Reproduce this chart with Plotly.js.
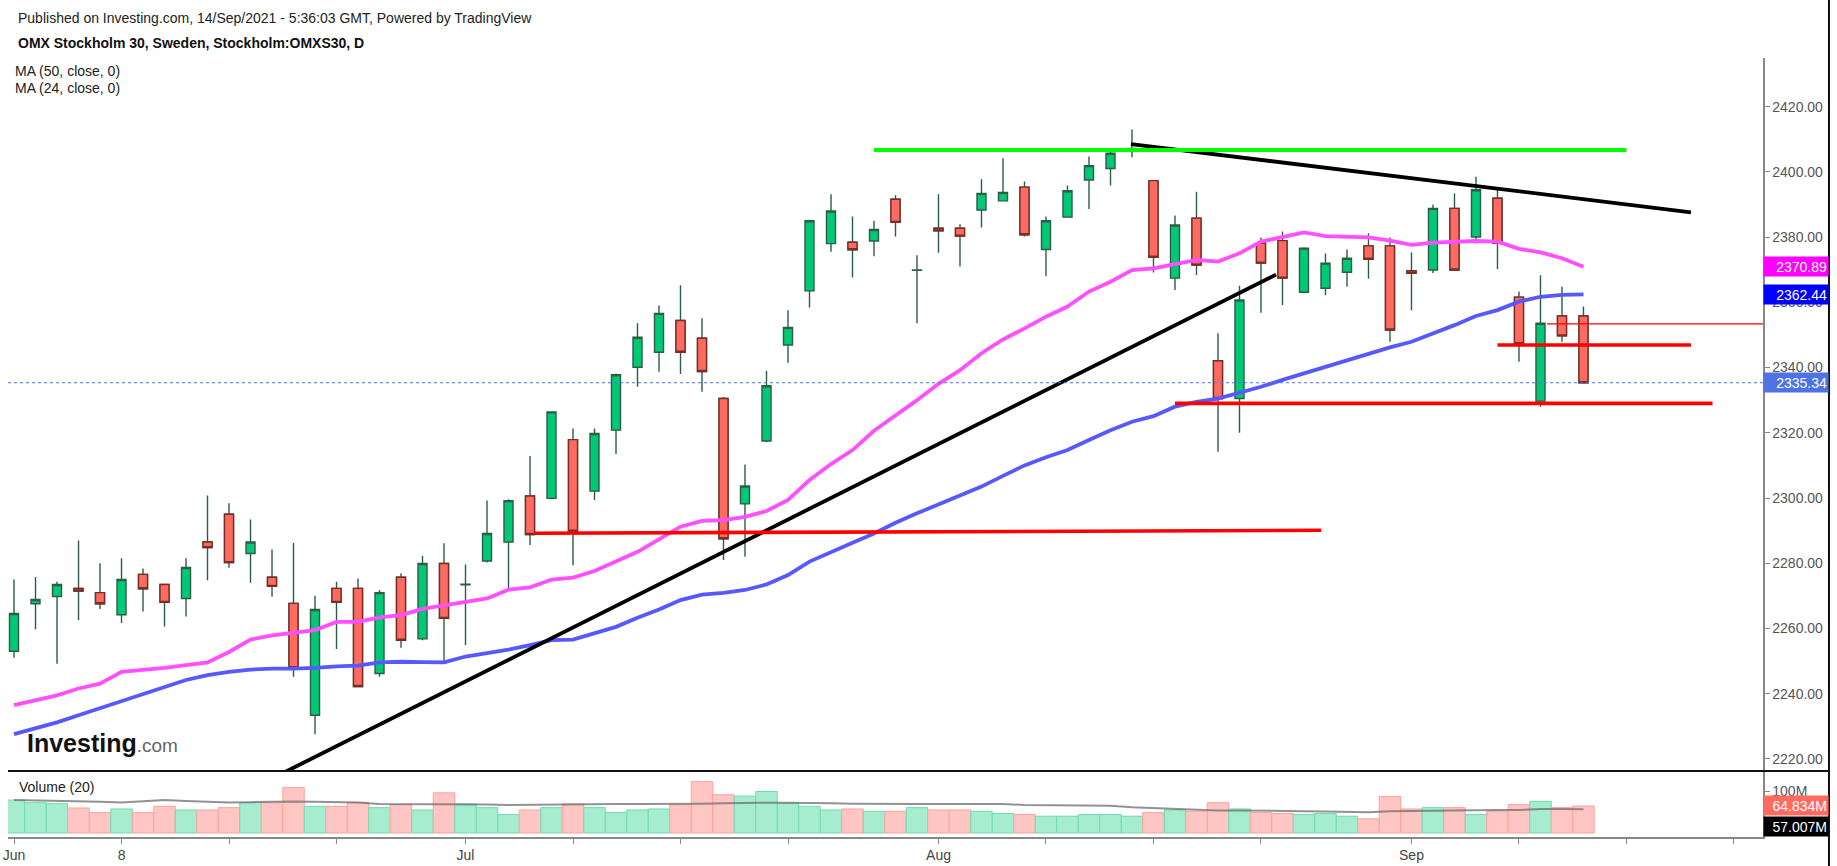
<!DOCTYPE html>
<html><head><meta charset="utf-8">
<script src="https://cdn.plot.ly/plotly-3.0.1.min.js"></script>
<style>html,body{margin:0;padding:0;background:#fff;overflow:hidden}#chart{width:1837px;height:866px}</style>
</head><body><div id="chart"></div>
<script>
// ---- OHLC (index 0 = 1 Jun 2021 ... index 73 = 13 Sep 2021) ----
const openP  = [2253.0,2267.6,2269.8,2272.3,2271.0,2264.2,2276.6,2273.5,2269.2,2286.5,2295.0,2283.0,2275.7,2267.7,2233.4,2272.3,2272.3,2246.2,2275.7,2256.8,2279.9,2273.4,2280.7,2286.5,2300.6,2299.9,2317.9,2302.1,2320.8,2340.1,2344.7,2354.4,2349.0,2330.5,2298.2,2317.5,2346.9,2363.5,2378.0,2378.4,2378.8,2391.6,2369.8,2382.7,2382.7,2388.3,2391.1,2395.3,2376.2,2386.1,2397.5,2401.0,2406.5,2397.3,2367.4,2385.8,2342.1,2330.5,2378.1,2378.9,2363.1,2364.3,2369.2,2377.3,2377.3,2369.7,2369.9,2388.8,2380.0,2391.9,2361.6,2329.7,2355.8,2355.8];
const highP  = [2275.0,2275.8,2274.3,2287.0,2280.0,2281.5,2278.4,2273.6,2281.5,2300.8,2298.4,2293.4,2284.2,2286.2,2270.0,2274.3,2275.3,2271.8,2276.9,2282.3,2286.1,2279.6,2299.2,2299.6,2312.9,2326.5,2321.3,2321.3,2338.2,2353.6,2359.0,2365.2,2355.1,2331.0,2310.3,2339.0,2357.6,2385.3,2393.1,2386.3,2385.0,2392.8,2374.4,2393.1,2383.9,2397.7,2404.2,2397.0,2386.3,2395.8,2404.7,2406.5,2413.0,2397.4,2386.6,2393.9,2350.5,2365.1,2379.9,2381.7,2376.9,2375.0,2376.2,2381.2,2379.9,2375.3,2390.0,2393.4,2398.5,2394.9,2363.3,2368.3,2364.8,2358.7];
const lowP   = [2251.0,2259.8,2249.2,2262.5,2266.0,2261.7,2265.2,2260.6,2263.7,2274.8,2278.6,2274.0,2269.7,2245.2,2227.6,2253.7,2242.0,2245.2,2254.1,2256.4,2249.4,2254.9,2280.2,2272.2,2285.6,2299.8,2279.4,2299.4,2313.5,2334.1,2338.7,2338.0,2332.6,2281.0,2282.0,2317.1,2341.5,2358.4,2375.5,2367.6,2374.1,2380.2,2353.6,2375.2,2371.0,2382.9,2391.0,2380.2,2368.0,2386.0,2388.6,2395.8,2404.5,2369.1,2363.8,2368.4,2314.2,2320.0,2356.8,2359.2,2363.0,2362.2,2364.8,2367.2,2347.9,2357.6,2369.0,2369.8,2378.0,2370.2,2341.8,2328.0,2347.9,2335.3];
const closeP = [2264.6,2268.9,2273.5,2271.5,2267.6,2275.0,2272.2,2268.0,2278.7,2284.8,2280.2,2286.5,2272.9,2248.0,2265.8,2268.0,2242.2,2271.0,2256.4,2279.9,2263.1,2273.6,2289.1,2299.2,2288.8,2326.4,2289.8,2319.8,2337.8,2349.3,2356.6,2344.7,2338.8,2287.5,2303.7,2334.4,2352.3,2385.0,2388.0,2376.1,2382.3,2384.5,2369.9,2381.9,2380.3,2393.4,2393.7,2380.7,2385.0,2394.2,2401.9,2405.7,2407.2,2373.8,2383.7,2371.4,2330.5,2360.7,2372.0,2367.4,2376.6,2372.0,2373.5,2373.2,2351.5,2368.9,2388.8,2369.9,2394.5,2378.1,2347.3,2353.6,2349.7,2335.34];

// ---- moving averages ----
const ma24 = [2236.5,2238.0,2239.5,2241.6,2243.1,2246.7,2247.2,2247.9,2248.8,2249.6,2252.8,2256.6,2257.9,2258.7,2259.5,2262.0,2262.0,2263.4,2264.1,2266.0,2267.0,2268.2,2269.2,2271.9,2272.6,2275.0,2275.6,2277.6,2280.4,2283.5,2287.3,2291.2,2293.0,2293.2,2294.2,2296.0,2299.4,2305.5,2310.4,2314.7,2320.6,2325.2,2330.0,2335.0,2339.2,2344.4,2348.6,2352.0,2355.6,2358.7,2363.3,2366.3,2369.9,2370.4,2371.7,2373.0,2372.5,2375.0,2378.6,2380.1,2381.4,2380.3,2380.1,2379.9,2378.9,2377.6,2378.3,2378.6,2378.8,2378.6,2376.4,2375.3,2373.5,2370.89];
const ma50 = [2227.6,2229.3,2231.2,2233.4,2235.5,2237.8,2239.8,2241.9,2244.2,2245.7,2246.7,2247.4,2247.7,2247.7,2247.9,2248.4,2248.6,2249.6,2249.8,2249.7,2249.6,2251.4,2252.4,2253.5,2254.9,2256.4,2256.6,2258.5,2260.5,2263.3,2265.8,2268.7,2270.4,2270.9,2271.8,2273.5,2276.4,2280.5,2283.5,2286.3,2289.1,2292.4,2295.3,2298.1,2300.8,2303.5,2306.8,2310.0,2312.5,2314.7,2317.8,2320.8,2323.4,2325.1,2328.0,2329.5,2330.5,2332.3,2334.1,2336.2,2338.2,2340.3,2342.3,2344.4,2346.2,2347.9,2350.3,2353.0,2355.8,2357.6,2360.2,2361.7,2362.3,2362.44];

// ---- volume (millions) and its 20-period MA ----
const volume = [79.1,72.7,70.4,60.1,49.0,57.7,49.0,64.0,55.3,55.3,60.9,72.7,72.7,109.1,64.0,64.0,73.5,60.9,68.0,55.3,96.5,69.6,60.9,44.3,55.3,60.9,69.6,60.9,49.0,55.3,57.7,68.0,123.3,91.7,88.6,99.6,71.2,64.0,55.3,57.7,52.2,52.2,60.9,55.3,55.3,52.2,46.7,44.3,40.3,40.3,44.3,44.3,40.3,49.0,55.3,52.2,72.7,57.7,49.0,46.7,44.3,46.7,40.3,34.0,87.8,57.7,60.9,60.9,44.3,52.2,68.0,75.9,60.9,64.834];
const volMA = [79,78,77.5,77.5,75,73.5,76,79,77,75,73.5,74,75,75.9,75,74,73.5,69.6,69.6,69.6,69.6,69.6,68.5,67.2,68,69,69.6,69.6,69.6,69.6,69.6,69.6,70.5,71.5,72.7,72.7,72.7,72.7,71.5,70.5,69.6,69.6,69.6,69.6,69.6,69.6,69.6,67.2,66.5,66,65.6,65.6,62,60,57.7,55.5,53.8,53.8,53.8,53.8,52.5,51.5,50.5,49.8,52.2,53,53.8,55.3,55.3,55.3,55.3,57.7,57.5,57.007];

// ---- time axis ticks ----
const tickIdx = [0,5,10,15,21,26,31,36,43,48,53,58,65,70,75,80];
const tickLbl = ['Jun','8','','','Jul','','','','Aug','','','','Sep','','',''];

// ---- drawn trend lines (index, price) ----
const upTrendX = [12.0, 58.7],   upTrendY = [2214.0, 2368.5];
const downTrendX = [51.95, 78.0], downTrendY = [2408.5, 2387.6];
const resistX = [40.0, 75.0],    resistY = [2406.7, 2406.7];
const julSupX = [24.2, 60.8],    julSupY = [2289.2, 2290.1];
const augSupX = [54.0, 79.0],    augSupY = [2329.0, 2329.0];
const sepSupX = [69.0, 78.0],    sepSupY = [2346.9, 2346.9];
const thinRedX = [71.3, 81.35],  thinRedY = [2353.4, 2353.4];

const F = 'Liberation Sans, Arial, sans-serif';
const idx = closeP.map((_, i) => i);
const XR = [-0.28, 81.35];

// red bodies overlay (outline dark red, no wick)
const rI = [], rO = [], rC = [];
idx.forEach(i => { if (closeP[i] < openP[i]) { rI.push(i); rO.push(openP[i]); rC.push(closeP[i]); } });

const up = idx.map(i => closeP[i] >= openP[i]);
const traces = [
  {type:'candlestick', x:idx, open:openP, high:highP, low:lowP, close:closeP, xaxis:'x', yaxis:'y',
   increasing:{line:{color:'#2c5e47', width:1.4}, fillcolor:'#00c875'},
   decreasing:{line:{color:'#2c5e47', width:1.4}, fillcolor:'#ff6b61'},
   whiskerwidth:0, hoverinfo:'skip', showlegend:false},
  {type:'candlestick', x:rI, open:rO, high:rO, low:rC, close:rC, xaxis:'x', yaxis:'y',
   increasing:{line:{color:'#7a2c27', width:1.4}, fillcolor:'#ff6b61'},
   decreasing:{line:{color:'#7a2c27', width:1.4}, fillcolor:'#ff6b61'},
   whiskerwidth:0, hoverinfo:'skip', showlegend:false},
  {type:'scatter', mode:'lines', x:idx, y:ma24, line:{color:'#ff4fff', width:3.8}, hoverinfo:'skip', showlegend:false},
  {type:'scatter', mode:'lines', x:idx, y:ma50, line:{color:'#5858ff', width:3.8}, hoverinfo:'skip', showlegend:false},
  {type:'scatter', mode:'lines', x:upTrendX, y:upTrendY, line:{color:'#000', width:3.8}, hoverinfo:'skip', showlegend:false},
  {type:'scatter', mode:'lines', x:downTrendX, y:downTrendY, line:{color:'#000', width:3.8}, hoverinfo:'skip', showlegend:false},
  {type:'scatter', mode:'lines', x:resistX, y:resistY, line:{color:'#00ff00', width:3.8}, hoverinfo:'skip', showlegend:false},
  {type:'scatter', mode:'lines', x:julSupX, y:julSupY, line:{color:'#ff0000', width:3.6}, hoverinfo:'skip', showlegend:false},
  {type:'scatter', mode:'lines', x:augSupX, y:augSupY, line:{color:'#ff0000', width:3.6}, hoverinfo:'skip', showlegend:false},
  {type:'scatter', mode:'lines', x:sepSupX, y:sepSupY, line:{color:'#ff0000', width:3.6}, hoverinfo:'skip', showlegend:false},
  {type:'scatter', mode:'lines', x:thinRedX, y:thinRedY, line:{color:'#ff0000', width:1.3}, hoverinfo:'skip', showlegend:false},
  {type:'bar', x:idx, y:volume, xaxis:'x', yaxis:'y2', width:1,
   marker:{color: up.map(u => u ? '#a6edcf' : '#ffc6c3'), line:{color: up.map(u => u ? '#6fdcae' : '#ffa19b'), width:1}},
   hoverinfo:'skip', showlegend:false},
  {type:'scatter', mode:'lines', x:idx, y:volMA, xaxis:'x', yaxis:'y2', line:{color:'rgba(110,110,110,0.75)', width:2}, hoverinfo:'skip', showlegend:false}
];

const lastClose = closeP[closeP.length-1];
const lastVol = volume[volume.length-1];
const lastVolMA = volMA[volMA.length-1];

function tag(txt, y, yref, bg, ysh) {
  return {text:txt, x:1, xref:'paper', xanchor:'left', y:y, yref:yref, yanchor:'middle', yshift:ysh||0,
    showarrow:false, bgcolor:bg, font:{color:'#fff', size:14, family:F}, width:62, height:17, align:'right', borderpad:1};
}
function txt(t, x, y, size, color, extra) {
  return Object.assign({text:t, x:x, y:y, xref:'paper', yref:'paper', xanchor:'left', yanchor:'middle',
    showarrow:false, font:{size:size, color:color, family:F}}, extra||{});
}

const layout = {
  width:1837, height:866, margin:{l:8, r:74, t:58, b:29},
  paper_bgcolor:'#fff', plot_bgcolor:'#fff', boxgap:0.4, barmode:'overlay', showlegend:false,
  font:{family:F},
  xaxis:{range:XR, anchor:'y2', tickvals:tickIdx, ticktext:tickLbl, ticks:'outside', ticklen:5, tickcolor:'#888',
    showline:true, linecolor:'#888', linewidth:1.5, showgrid:false, zeroline:false, rangeslider:{visible:false},
    tickfont:{size:14, color:'#444', family:F}, fixedrange:true},
  yaxis:{domain:[0.0847, 1], range:[2216.3, 2434.9], side:'right', anchor:'x', dtick:20, tickformat:'.2f',
    ticks:'outside', ticklen:5, tickcolor:'#888', showline:true, linecolor:'#888', linewidth:1.5,
    showgrid:false, zeroline:false, tickfont:{size:14, color:'#555', family:F}},
  yaxis2:{domain:[0, 0.0847], range:[-9.6, 148.8], side:'right', anchor:'x', tickvals:[100], ticktext:['100M'],
    ticks:'outside', ticklen:5, tickcolor:'#888', showline:true, linecolor:'#888', linewidth:1.5,
    showgrid:false, zeroline:false, tickfont:{size:14, color:'#555', family:F}},
  shapes:[
    {type:'line', xref:'x', yref:'y', x0:XR[0], x1:XR[1], y0:lastClose, y1:lastClose, line:{color:'#4f73e3', width:1, dash:'dot'}},
    {type:'line', xref:'paper', yref:'paper', x0:0, x1:1.0376, y0:0.0847, y1:0.0847, line:{color:'#111', width:2}},
    {type:'line', xref:'paper', yref:'paper', x0:1.0376, x1:1.0376, y0:-0.04, y1:1.08, line:{color:'#111', width:2}}
  ],
  annotations:[
    txt('Published on Investing.com, 14/Sep/2021 - 5:36:03 GMT, Powered by TradingView', 0.00456, 1.05135, 14, '#222'),
    txt('<b>OMX Stockholm 30, Sweden, Stockholm:OMXS30, D</b>', 0.00456, 1.01926, 14, '#111'),
    txt('MA (50, close, 0)', 0.00285, 0.98331, 14, '#222'),
    txt('MA (24, close, 0)', 0.00285, 0.96149, 14, '#222'),
    txt('Volume (20)', 0.00513, 0.06418, 14, '#222'),
    txt('<b>Investing</b><span style="font-size:19px;color:#666">.com</span>', 0.00969, 0.12067, 25, '#111'),
    tag('2370.89', ma24[ma24.length-1], 'y', '#ff00ff'),
    tag('2362.44', ma50[ma50.length-1], 'y', '#0000ff'),
    tag(lastClose.toFixed(2), lastClose, 'y', '#4f73e3'),
    tag(lastVol.toFixed(3)+'M', lastVol, 'y2', '#ff6b61'),
    tag(lastVolMA.toFixed(3)+'M', lastVolMA, 'y2', '#000', -17)
  ]
};

Plotly.newPlot('chart', traces, layout, {staticPlot:true, displayModeBar:false});
</script>
</body></html>
